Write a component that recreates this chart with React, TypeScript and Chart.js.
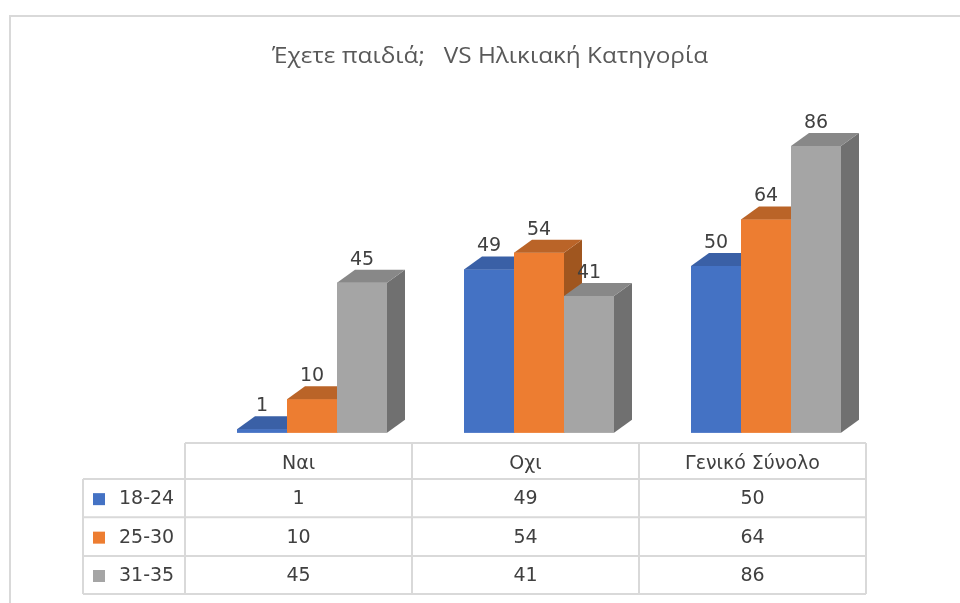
import React, { useEffect, useRef } from "react";
import { Chart, registerables } from "chart.js";

Chart.register(...registerables);

const TITLE = "Έχετε παιδιά;   VS Ηλικιακή Κατηγορία";
const CATEGORIES = ["Ναι", "Οχι", "Γενικό Σύνολο"];
const SERIES_NAMES = ["18-24", "25-30", "31-35"];
const AGE_18_24 = [1, 49, 50];
const AGE_25_30 = [10, 54, 64];
const AGE_31_35 = [45, 41, 86];
const Y_MAX = 100;

const FRONT = ["#4472C4", "#ED7D31", "#A5A5A5"];
const TOP = ["#3A60A6", "#BA6428", "#888888"];
const SIDE = ["#2F5597", "#A0561F", "#707070"];

const DEPTH_X = 18;
const DEPTH_Y = 13;
const TABLE_SHIFT = -13.5;
const HEADER_TOP = 443;
const ROW_TOPS = [479, 517.3, 556, 594];
const LEGEND_LEFT = 83;
const GRID = "#D9D9D9";
const TEXT = "#404040";
const NUM_FONT = '19px "DejaVu Sans"';

const threeD = {
  id: "threeD",
  beforeDraw(chart: any) {
    const ctx = chart.ctx;
    ctx.save();
    ctx.fillStyle = "#ffffff";
    ctx.fillRect(0, 0, chart.width, chart.height);
    ctx.strokeStyle = GRID;
    ctx.lineWidth = 2;
    ctx.beginPath();
    ctx.moveTo(10, chart.height);
    ctx.lineTo(10, 16);
    ctx.lineTo(chart.width, 16);
    ctx.stroke();
    // title
    ctx.fillStyle = "#595959";
    ctx.font = '21px "Open Sans"';
    ctx.textBaseline = "alphabetic";
    const w = ctx.measureText(TITLE).width;
    const target = 436;
    ctx.translate(490, 63);
    ctx.scale(target / w, 1);
    ctx.textAlign = "center";
    ctx.fillText(TITLE, 0, 0);
    ctx.restore();
  },
  afterDatasetsDraw(chart: any) {
    const ctx = chart.ctx;
    const n = chart.data.labels.length;
    ctx.save();
    for (let i = 0; i < n; i++) {
      chart.data.datasets.forEach((_ds: any, di: number) => {
        const bar = chart.getDatasetMeta(di).data[i];
        bar.draw(ctx);
        const p = bar.getProps(["x", "y", "base", "width"], true);
        const x0 = p.x - p.width / 2;
        const x1 = p.x + p.width / 2;
        ctx.fillStyle = SIDE[di];
        ctx.beginPath();
        ctx.moveTo(x1, p.y);
        ctx.lineTo(x1 + DEPTH_X, p.y - DEPTH_Y);
        ctx.lineTo(x1 + DEPTH_X, p.base - DEPTH_Y);
        ctx.lineTo(x1, p.base);
        ctx.closePath();
        ctx.fill();
        ctx.fillStyle = TOP[di];
        ctx.beginPath();
        ctx.moveTo(x0, p.y);
        ctx.lineTo(x1, p.y);
        ctx.lineTo(x1 + DEPTH_X, p.y - DEPTH_Y);
        ctx.lineTo(x0 + DEPTH_X, p.y - DEPTH_Y);
        ctx.closePath();
        ctx.fill();
      });
    }
    ctx.restore();
  },
  afterDraw(chart: any) {
    const ctx = chart.ctx;
    const xs = chart.scales.x;
    ctx.save();
    // data labels
    ctx.font = NUM_FONT;
    ctx.fillStyle = TEXT;
    ctx.textAlign = "center";
    ctx.textBaseline = "alphabetic";
    chart.data.datasets.forEach((ds: any, di: number) => {
      const meta = chart.getDatasetMeta(di);
      meta.data.forEach((bar: any, i: number) => {
        const p = bar.getProps(["x", "y"], true);
        ctx.fillText(String(ds.data[i]), p.x, p.y - DEPTH_Y - 5);
      });
    });
    // table
    const n = CATEGORIES.length;
    const catW = (xs.right - xs.left) / n;
    const colEdges: number[] = [];
    for (let i = 0; i < n; i++) colEdges.push(xs.getPixelForValue(i) - catW / 2 + TABLE_SHIFT);
    const tableLeft = colEdges[0];
    const tableRight = xs.getPixelForValue(n - 1) + catW / 2 + TABLE_SHIFT;
    colEdges.push(tableRight);
    const bottom = ROW_TOPS[ROW_TOPS.length - 1];
    ctx.strokeStyle = GRID;
    ctx.lineWidth = 2;
    ctx.beginPath();
    ctx.moveTo(tableLeft, HEADER_TOP);
    ctx.lineTo(tableRight, HEADER_TOP);
    ROW_TOPS.forEach((y) => {
      ctx.moveTo(LEGEND_LEFT, y);
      ctx.lineTo(tableRight, y);
    });
    colEdges.forEach((x) => {
      ctx.moveTo(x, HEADER_TOP);
      ctx.lineTo(x, bottom);
    });
    ctx.moveTo(LEGEND_LEFT, ROW_TOPS[0]);
    ctx.lineTo(LEGEND_LEFT, bottom);
    ctx.stroke();

    ctx.fillStyle = TEXT;
    ctx.font = NUM_FONT;
    ctx.textAlign = "center";
    ctx.textBaseline = "middle";
    CATEGORIES.forEach((c, i) => {
      const cx = (colEdges[i] + colEdges[i + 1]) / 2;
      ctx.fillText(c, cx, (HEADER_TOP + ROW_TOPS[0]) / 2 + 3);
    });
    chart.data.datasets.forEach((ds: any, di: number) => {
      const yc = (ROW_TOPS[di] + ROW_TOPS[di + 1]) / 2 + 1;
      ds.data.forEach((v: number, i: number) => {
        const cx = (colEdges[i] + colEdges[i + 1]) / 2;
        ctx.fillStyle = TEXT;
        ctx.textAlign = "center";
        ctx.fillText(String(v), cx, yc);
      });
      ctx.fillStyle = FRONT[di];
      ctx.fillRect(LEGEND_LEFT + 10, yc - 6, 12, 12);
      ctx.fillStyle = TEXT;
      ctx.textAlign = "left";
      ctx.fillText(ds.label, LEGEND_LEFT + 36, yc);
    });
    ctx.restore();
  },
};

export default function App() {
  const ref = useRef<HTMLCanvasElement | null>(null);
  useEffect(() => {
    document.body.style.margin = "0";
    const canvas = ref.current;
    if (!canvas) return;
    const seriesValues = [AGE_18_24, AGE_25_30, AGE_31_35];
    const chart = new Chart(canvas, {
      type: "bar",
      data: {
        labels: CATEGORIES,
        datasets: seriesValues.map((vals, i) => ({
          label: SERIES_NAMES[i],
          data: vals,
          backgroundColor: FRONT[i],
          borderWidth: 0,
          categoryPercentage: 150 / 227,
          barPercentage: 1,
        })),
      },
      options: {
        responsive: false,
        animation: false,
        devicePixelRatio: 1,
        layout: { padding: { left: 198.5, right: 80.5, top: 99.4, bottom: 170.3 } },
        plugins: {
          legend: { display: false },
          tooltip: { enabled: false },
          title: { display: false },
        },
        scales: {
          x: { display: false },
          y: { display: false, min: 0, max: Y_MAX },
        },
      },
      plugins: [threeD],
    });
    return () => chart.destroy();
  }, []);
  return (
    <canvas
      ref={ref}
      width={960}
      height={603}
      style={{ position: "absolute", left: 0, top: 0, display: "block" }}
    />
  );
}
